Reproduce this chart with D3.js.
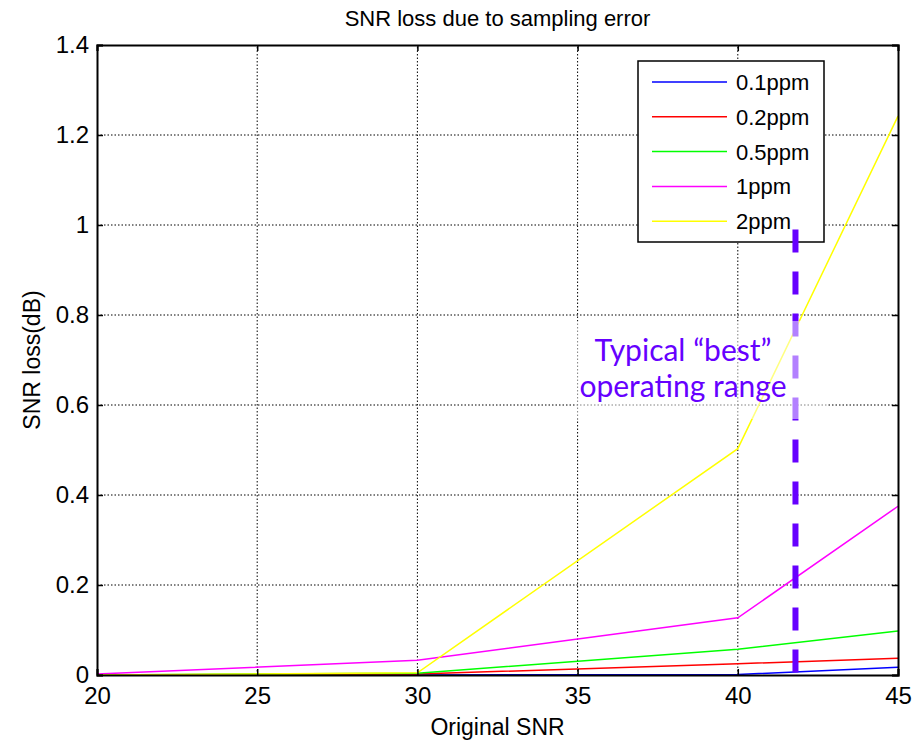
<!DOCTYPE html>
<html>
<head>
<meta charset="utf-8">
<script src="https://cdn.jsdelivr.net/npm/d3@7"></script>
<style>
   body { margin: 0; background: white; }
   svg { display: block; }
</style>
</head>
<body>
<script>
// CHART DATA
var snr = [20, 30, 40, 45];
var loss01 = [0, 0, 0.001, 0.017];
var loss02 = [0, 0.002, 0.025, 0.037];
var loss05 = [0, 0.004, 0.057, 0.098];
var loss1 = [0.002, 0.033, 0.127, 0.375];
var loss2 = [0, 0.005, 0.503, 1.242];
var seriesNames = ['0.1ppm', '0.2ppm', '0.5ppm', '1ppm', '2ppm'];
var seriesValues = [loss01, loss02, loss05, loss1, loss2];
var xTicks = [20, 25, 30, 35, 40, 45];
var yTicks = [0, 0.2, 0.4, 0.6, 0.8, 1, 1.2, 1.4];

// ANNOTATION DATA
var markerSnr = 41.8;
var markerTop = 0.99;
var noteLines = ['Typical \u201cbest\u201d', 'operating range'];

// SETTINGS OBJECT
var settings = {
   width: 924,
   height: 740,
   plot: { left: 97, right: 898, top: 45, bottom: 675 },
   colors: ['#0000ff', '#ff0000', '#00ff00', '#ff00ff', '#ffff00'],
   note: '#6600ff',
   font: '"Liberation Sans", Arial, sans-serif',
   tick: 6
}

// SCALES
var x = d3.scaleLinear().domain([20, 45]).range([settings.plot.left, settings.plot.right]);
var y = d3.scaleLinear().domain([0, 1.4]).range([settings.plot.bottom, settings.plot.top]);

// GENERATE CANVAS
var svg = d3.select('body').append('svg')
   .attr('width', settings.width)
   .attr('height', settings.height)
   .style('font-family', settings.font)

// GRID LINES
var grid = svg.append('g').attr('stroke', '#000').attr('stroke-width', 1).attr('stroke-dasharray', '1.5,2');
grid.selectAll('.gx').data(xTicks.slice(1, -1)).enter().append('line')
   .attr('x1', d => x(d)).attr('x2', d => x(d))
   .attr('y1', y(0)).attr('y2', y(1.4))
grid.selectAll('.gy').data(yTicks.slice(1, -1)).enter().append('line')
   .attr('x1', x(20)).attr('x2', x(45))
   .attr('y1', d => y(d)).attr('y2', d => y(d))

// SERIES LINES
var line = d3.line().x((d, i) => x(snr[i])).y(d => y(d));
seriesValues.forEach((values, k) => {
   svg.append('path')
      .attr('fill', 'none')
      .attr('stroke', settings.colors[k])
      .attr('stroke-width', 1.5)
      .attr('d', line(values))
});

// AXES (BOTTOM / LEFT WITH LABELS, TOP / RIGHT AS BOX)
var xAxis = svg.append('g')
   .attr('transform', 'translate(0,' + settings.plot.bottom + ')')
   .call(d3.axisBottom(x).tickValues(xTicks).tickSize(-settings.tick).tickPadding(12).tickFormat(d3.format('d')))
var yAxis = svg.append('g')
   .attr('transform', 'translate(' + settings.plot.left + ',0)')
   .call(d3.axisLeft(y).tickValues(yTicks).tickSize(-settings.tick).tickPadding(8).tickFormat(d => d3.format('~g')(d)))
var topAxis = svg.append('g')
   .attr('transform', 'translate(0,' + settings.plot.top + ')')
   .call(d3.axisTop(x).tickValues(xTicks).tickSize(-settings.tick).tickFormat(''))
var rightAxis = svg.append('g')
   .attr('transform', 'translate(' + settings.plot.right + ',0)')
   .call(d3.axisRight(y).tickValues(yTicks).tickSize(-settings.tick).tickFormat(''))

;[xAxis, yAxis, topAxis, rightAxis].forEach(a => {
   a.select('.domain').attr('stroke', '#000').attr('stroke-width', 2)
   a.selectAll('.tick line').attr('stroke', '#000').attr('stroke-width', 1.5)
   a.selectAll('.tick text').attr('fill', '#000').style('font-size', '24px').style('font-family', settings.font)
});

// TITLE & AXIS LABELS
svg.append('text')
   .attr('x', (settings.plot.left + settings.plot.right) / 2)
   .attr('y', 26)
   .attr('text-anchor', 'middle')
   .style('font-size', '22px')
   .text('SNR loss due to sampling error')
svg.append('text')
   .attr('x', (settings.plot.left + settings.plot.right) / 2)
   .attr('y', 735)
   .attr('text-anchor', 'middle')
   .style('font-size', '23px')
   .text('Original SNR')
svg.append('text')
   .attr('transform', 'translate(40,' + (settings.plot.top + settings.plot.bottom) / 2 + ') rotate(-90)')
   .attr('text-anchor', 'middle')
   .style('font-size', '23px')
   .text('SNR loss(dB)')

// LEGEND
var legend = svg.append('g').attr('transform', 'translate(638,61)');
legend.append('rect')
   .attr('width', 186).attr('height', 181)
   .attr('fill', 'white').attr('stroke', '#000').attr('stroke-width', 1.5)
seriesNames.forEach((name, k) => {
   var ly = 21 + k * 34.8;
   legend.append('line')
      .attr('x1', 14).attr('x2', 89).attr('y1', ly).attr('y2', ly)
      .attr('stroke', settings.colors[k]).attr('stroke-width', 1.5)
   legend.append('text')
      .attr('x', 98).attr('y', ly + 8)
      .style('font-size', '22px')
      .text(name)
});

// OPERATING RANGE MARKER
svg.append('line')
   .attr('x1', x(markerSnr)).attr('x2', x(markerSnr))
   .attr('y1', y(markerTop)).attr('y2', y(0))
   .attr('stroke', settings.note)
   .attr('stroke-width', 6)
   .attr('stroke-dasharray', '23,19')

// NOTE BOX & TEXT
svg.append('rect')
   .attr('x', 576).attr('y', 321).attr('width', 251).attr('height', 98)
   .attr('fill', 'white').attr('opacity', 0.5)
svg.selectAll('.note').data(noteLines).enter().append('text')
   .attr('x', 683)
   .attr('y', (d, i) => 361 + i * 36)
   .attr('text-anchor', 'middle')
   .attr('fill', settings.note)
   .style('font-family', 'Lato, "Open Sans", sans-serif')
   .style('font-size', '30px')
   .text(d => d)
</script>
</body>
</html>
